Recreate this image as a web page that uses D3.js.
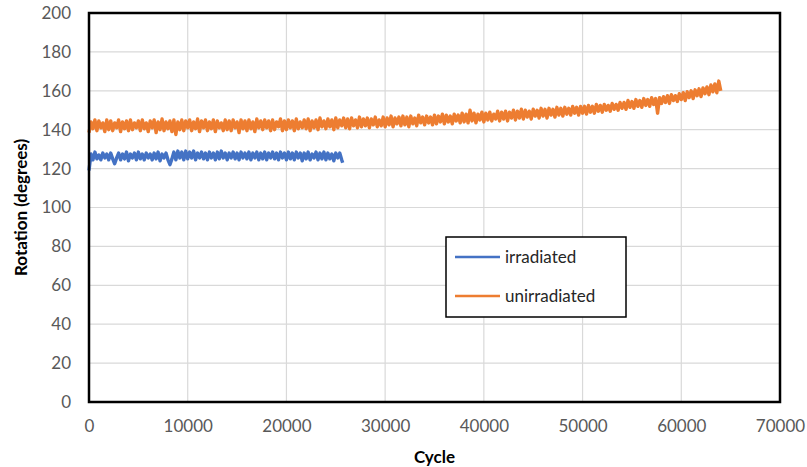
<!DOCTYPE html>
<html>
<head>
<meta charset="utf-8">
<script src="https://cdn.jsdelivr.net/npm/d3@7"></script>
<style>
  body { margin: 0; background: #fff; }
</style>
</head>
<body>
<div class="chartcontainer"></div>
<script>
// cycle step between samples
const cycleStep = 200;

// unirradiated: rotation (degrees), one value every 200 cycles, 0..64000
const unirradiated = [
  138.5, 144, 140.5, 145, 139.5, 144.5, 141, 143.5, 139, 145,
  140, 144.5, 139.5, 143.5, 141, 145, 139, 144, 140.5, 144.5,
  139.5, 145, 140, 143.5, 141, 144.5, 139.5, 145, 140.5, 143.5,
  139, 144.5, 141, 145, 138.5, 144, 140, 145.5, 139.5, 144,
  140.5, 144.5, 139, 145, 137.5, 144, 140, 145, 139.5, 144.5,
  141, 145, 139.5, 144, 140.5, 145.5, 139, 144.5, 141, 145,
  139.5, 144, 140.5, 145, 139, 144.5, 141, 143.5, 139.5, 145,
  140, 144.5, 139.5, 145, 141, 144, 138.5, 145, 140.5, 144.5,
  139.5, 145, 140.5, 144, 139, 145.5, 141, 144.5, 140, 145,
  141, 144.5, 139.5, 145, 140, 144, 141.5, 145.5, 139.5, 144.5,
  140, 145, 141, 144.5, 139.5, 145.5, 140.5, 144, 141, 145,
  140.5, 145.5, 139.5, 144.5, 141, 145, 140, 146, 141.5, 144.5,
  140.5, 145.5, 141.5, 145, 140, 146, 141, 145, 142, 146,
  141, 145.5, 140.5, 146, 142, 145, 141, 146.5, 141.5, 145.5,
  142, 146, 141, 145.5, 142.5, 146.5, 141.5, 145, 142, 146.5,
  141.5, 146, 142.5, 147, 141.5, 146, 143, 146.5, 142, 147,
  142.5, 146.5, 141.5, 147, 143, 146, 142, 147.5, 143.5, 146.5,
  142.5, 147, 143.5, 146.5, 142.5, 147.5, 143, 147, 144, 148,
  143, 147.5, 144, 147, 143, 148, 144.5, 147.5, 143.5, 148.5,
  144, 148, 143.5, 150, 144.5, 148.5, 143.5, 148, 145, 149,
  144, 148.5, 145, 149, 144.5, 148, 145.5, 149.5, 144.5, 149,
  145.5, 149.5, 144.5, 149, 146, 150, 145, 149.5, 146, 150.5,
  145.5, 150, 146.5, 149.5, 145.5, 150.5, 147, 150, 146, 151,
  147, 150.5, 146, 151, 147.5, 150.5, 146.5, 151.5, 147.5, 151,
  147, 151.5, 148, 151, 147.5, 152, 148.5, 151.5, 147.5, 152,
  148.5, 152, 148, 152.5, 149, 152, 148.5, 153, 149.5, 152.5,
  149, 153, 150, 152.5, 149.5, 153.5, 150.5, 153, 150, 154,
  151, 154, 150.5, 155, 151.5, 154.5, 151, 155.5, 152, 155,
  151.5, 156, 152.5, 155.5, 152, 156.5, 153, 156, 148.5, 156.5,
  153.5, 157, 154, 157.5, 153.5, 158, 155, 157.5, 154.5, 158.5,
  155.5, 159, 155, 159.5, 156.5, 160, 156, 160.5, 157.5, 161,
  157, 161.5, 158.5, 162, 158, 163, 159.5, 163.5, 159, 165,
  160
];

// irradiated: rotation (degrees), one value every 200 cycles, 0..25600
const irradiated = [
  119, 127.5, 124.5, 128.5, 125, 127, 124.5, 128, 125.5, 127.5,
  124.5, 128, 125, 122.5, 125.5, 128, 124.5, 127.5, 125, 128.5,
  124, 127.5, 125.5, 128, 124.5, 128.5, 125, 127.5, 124.5, 128,
  125.5, 127.5, 124.5, 128, 125, 128.5, 124, 127.5, 125.5, 128,
  124.5, 122, 125, 128.5, 124.5, 129, 125.5, 128.5, 124.5, 129,
  125, 128.5, 125.5, 129, 124.5, 128, 125.5, 128.5, 125, 128,
  124.5, 128.5, 125.5, 128, 124.5, 128.5, 125, 129, 125.5, 128,
  124.5, 128, 125.5, 128.5, 125, 128, 124.5, 128.5, 125.5, 128,
  125, 128.5, 124.5, 128, 125.5, 128.5, 124.5, 128, 125, 128.5,
  124.5, 128, 125.5, 128.5, 125, 128, 124.5, 128.5, 125.5, 128,
  124.5, 128.5, 125, 128, 124.5, 128.5, 125.5, 128, 124, 128,
  125, 128.5, 124.5, 127.5, 125.5, 128.5, 124.5, 128, 125, 128.5,
  124.5, 128, 125, 127.5, 124, 128, 125.5, 128, 124.5
];
const irradiatedEnd = [25700, 123];

const xTicks = [0, 10000, 20000, 30000, 40000, 50000, 60000, 70000];
const yTicks = [0, 20, 40, 60, 80, 100, 120, 140, 160, 180, 200];
const seriesNames = ['irradiated', 'unirradiated'];
const seriesColors = ['#4472C4', '#ED7D31'];

const width = 807;
const height = 467;
const margin = {top: 13, right: 27, bottom: 65, left: 89};

const svg = d3
  .select('.chartcontainer')
  .append('svg')
  .attr('width', width)
  .attr('height', height)
  .style('font-family', 'Lato, "Open Sans", sans-serif');

const x = d3
  .scaleLinear()
  .domain([0, 70000])
  .range([margin.left, width - margin.right]);

const y = d3
  .scaleLinear()
  .domain([0, 200])
  .range([height - margin.bottom, margin.top]);

// gridlines
svg
  .append('g')
  .selectAll('line')
  .data(yTicks)
  .enter()
  .append('line')
  .attr('x1', x(0))
  .attr('x2', x(70000))
  .attr('y1', d => y(d))
  .attr('y2', d => y(d))
  .attr('stroke', '#d9d9d9')
  .attr('stroke-width', 1.2);

svg
  .append('g')
  .selectAll('line')
  .data(xTicks)
  .enter()
  .append('line')
  .attr('x1', d => x(d))
  .attr('x2', d => x(d))
  .attr('y1', y(0))
  .attr('y2', y(200))
  .attr('stroke', '#d9d9d9')
  .attr('stroke-width', 1.2);

// axes (labels only, Excel style)
const xAxis = svg
  .append('g')
  .attr('transform', `translate(0,${y(0)})`)
  .call(d3.axisBottom(x).tickValues(xTicks).tickFormat(d3.format('d')).tickSize(0).tickPadding(18));

const yAxis = svg
  .append('g')
  .attr('transform', `translate(${x(0)},0)`)
  .call(d3.axisLeft(y).tickValues(yTicks).tickSize(0).tickPadding(18));

[xAxis, yAxis].forEach(a => {
  a.select('.domain').remove();
  a.selectAll('text')
    .style('font-family', 'Lato, "Open Sans", sans-serif')
    .style('font-size', '17px')
    .attr('fill', '#595959');
});

// series
const line = d3
  .line()
  .x(d => x(d[0]))
  .y(d => y(d[1]));

const irrPoints = irradiated.map((v, i) => [i * cycleStep, v]).concat([irradiatedEnd]);
const unirrPoints = unirradiated.map((v, i) => [i * cycleStep, v]);

svg
  .append('path')
  .datum(unirrPoints)
  .attr('d', line)
  .attr('fill', 'none')
  .attr('stroke', seriesColors[1])
  .attr('stroke-width', 3.4)
  .attr('stroke-linejoin', 'round');

svg
  .append('path')
  .datum(irrPoints)
  .attr('d', line)
  .attr('fill', 'none')
  .attr('stroke', seriesColors[0])
  .attr('stroke-width', 3.4)
  .attr('stroke-linejoin', 'round');

// plot frame
svg
  .append('rect')
  .attr('x', x(0))
  .attr('y', y(200))
  .attr('width', x(70000) - x(0))
  .attr('height', y(0) - y(200))
  .attr('fill', 'none')
  .attr('stroke', '#000')
  .attr('stroke-width', 2.5);

// axis titles
svg
  .append('text')
  .attr('x', (x(0) + x(70000)) / 2)
  .attr('y', 463)
  .attr('text-anchor', 'middle')
  .style('font-size', '17px')
  .style('font-weight', 'bold')
  .attr('fill', '#000')
  .text('Cycle');

svg
  .append('text')
  .attr('transform', `translate(27,${(y(0) + y(200)) / 2}) rotate(-90)`)
  .attr('text-anchor', 'middle')
  .style('font-size', '17px')
  .style('font-weight', 'bold')
  .attr('fill', '#000')
  .text('Rotation (degrees)');

// legend
const legend = svg.append('g').attr('transform', 'translate(446,237)');

legend
  .append('rect')
  .attr('width', 180)
  .attr('height', 80)
  .attr('fill', '#fff')
  .attr('stroke', '#000')
  .attr('stroke-width', 1.5);

const items = legend
  .selectAll('.legenditem')
  .data(seriesNames)
  .enter()
  .append('g')
  .attr('class', 'legenditem')
  .attr('transform', (d, i) => `translate(0,${20 + i * 39})`);

items
  .append('line')
  .attr('x1', 9)
  .attr('x2', 54)
  .attr('stroke', (d, i) => seriesColors[i])
  .attr('stroke-width', 2.6);

items
  .append('text')
  .attr('x', 59)
  .attr('dy', '0.35em')
  .style('font-size', '17px')
  .attr('fill', '#262626')
  .text(d => d);
</script>
</body>
</html>
